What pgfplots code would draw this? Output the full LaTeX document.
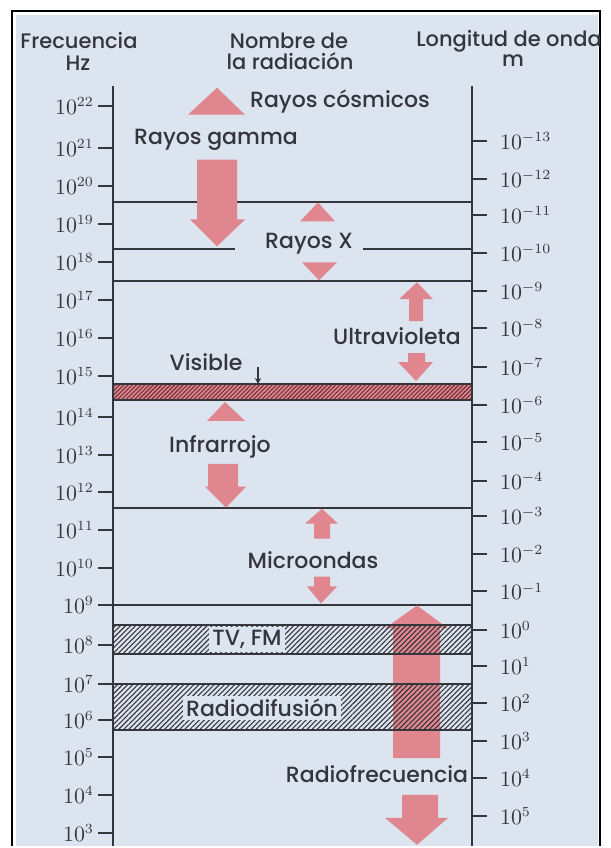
\documentclass[border=0pt]{standalone}
\usepackage{pgfplots}
\pgfplotsset{compat=1.18}
\usepackage{fontspec}
\setmainfont{Poppins}[UprightFont={* Medium}]
\usetikzlibrary{patterns.meta,arrows.meta}
\definecolor{bg}{HTML}{DCE4F0}
\definecolor{arr}{HTML}{E0868F}
\definecolor{ink}{HTML}{35353C}
\definecolor{visfill}{HTML}{D9878E}
\definecolor{vishatch}{HTML}{7A3038}
\begin{document}
\begin{tikzpicture}
\pgfplotsset{
 base/.style={
  width=179.5pt, height=380pt, scale only axis,
  xmin=113, xmax=472, ymin=86, ymax=848, y dir=reverse,
  clip=false,
  axis line style={ink, line width=1.2pt, -},
  tick style={ink, line width=1pt}, major tick length=7.5pt,
  tick align=outside,
  yticklabel style={font=\fontsize{10.5}{11}\selectfont, text=ink},
 },
 ln/.style={ink, line width=1pt},
 af/.style={fill=arr, draw=none},
}
\tikzset{
 lbl/.style={font=\fontsize{11}{12}\selectfont, text=ink, inner sep=1.5pt},
 hdr/.style={font=\fontsize{10.5}{12}\selectfont, text=ink, inner sep=0pt},
}
% ---------- content ----------
\begin{axis}[base, set layers, hide axis]
\begin{pgfonlayer}{axis background}
\fill[white] (axis cs:0,0) rectangle (axis cs:610,848);
\fill[bg] (axis cs:16,15) rectangle (axis cs:598,848);
\draw[black, line width=1.2pt] (axis cs:12,848) -- (axis cs:12,11) -- (axis cs:600,11) -- (axis cs:600,848);
\end{pgfonlayer}
% band boundaries
\addplot[ln] coordinates {(113,203)(472,203)};
\addplot[ln] coordinates {(113,250)(235,250)};
\addplot[ln] coordinates {(363,250)(472,250)};
\addplot[ln] coordinates {(113,282)(472,282)};
\addplot[ln] coordinates {(113,509)(472,509)};
\addplot[ln] coordinates {(113,607)(472,607)};
% visible band
\addplot[draw=none, fill=visfill] coordinates {(113,385)(472,385)(472,401)(113,401)} -- cycle;
\addplot[draw=none, pattern={Lines[angle=45,distance=1.5pt,line width=0.55pt]}, pattern color=vishatch] coordinates {(113,385)(472,385)(472,401)(113,401)} -- cycle;
\addplot[ln] coordinates {(113,385)(472,385)};
\addplot[ln] coordinates {(113,401)(472,401)};
% arrows
\addplot[af] coordinates {(188,115)(217,88)(245,115)} -- cycle;
\addplot[af] coordinates {(197,160)(237,160)(237,220)(245,220)(217,247)(190,220)(197,220)} -- cycle;
\addplot[af] coordinates {(300,222)(318,203)(335,222)} -- cycle;
\addplot[af] coordinates {(302,263)(337,263)(319,281)} -- cycle;
\addplot[af] coordinates {(417,283)(433,300)(423,300)(423,322)(409,322)(409,300)(399,300)} -- cycle;
\addplot[af] coordinates {(408,354)(425,354)(425,363)(433,363)(416,382)(398,363)(408,363)} -- cycle;
\addplot[af] coordinates {(207,422)(225,403)(245,422)} -- cycle;
\addplot[af] coordinates {(208,465)(238,465)(238,488)(246,488)(226,509)(205,488)(208,488)} -- cycle;
\addplot[af] coordinates {(322,510)(338,525)(330,525)(330,540)(314,540)(314,525)(305,525)} -- cycle;
\addplot[af] coordinates {(314,578)(330,578)(330,588)(337,588)(321,605)(307,588)(314,588)} -- cycle;
\addplot[af] coordinates {(417,607)(448,630)(440,630)(440,760)(393,760)(393,630)(385,630)} -- cycle;
\addplot[af] coordinates {(402,797)(438,797)(438,820)(448,820)(417,847)(385,820)(402,820)} -- cycle;
% TV FM and radio bands (hatch over arrow)
\addplot[draw=none, pattern={Lines[angle=45,distance=1.8pt,line width=0.55pt]}, pattern color=ink] coordinates {(113,627)(472,627)(472,656)(113,656)} -- cycle;
\addplot[ln] coordinates {(113,627)(472,627)};
\addplot[ln] coordinates {(113,656)(472,656)};
\addplot[draw=none, pattern={Lines[angle=45,distance=1.8pt,line width=0.55pt]}, pattern color=ink] coordinates {(113,686)(472,686)(472,732)(113,732)} -- cycle;
\addplot[ln] coordinates {(113,686)(472,686)};
\addplot[ln] coordinates {(113,732)(472,732)};
% small visible arrow
\addplot[ink, line width=0.8pt, -{Stealth[length=3pt,width=3pt]}] coordinates {(258,368)(258,385)};
% labels
\node[lbl] at (axis cs:340,102) {Rayos cósmicos};
\node[lbl] at (axis cs:216,140) {Rayos gamma};
\node[lbl] at (axis cs:309,244) {Rayos X};
\node[lbl] at (axis cs:397,337) {Ultravioleta};
\node[lbl] at (axis cs:206,363) {Visible};
\node[lbl] at (axis cs:220,448) {Infrarrojo};
\node[lbl] at (axis cs:313,562) {Microondas};
\node[lbl, fill=bg] at (axis cs:247,641) {TV, FM};
\node[lbl, fill=bg] at (axis cs:262,710) {Radiodifusión};
\node[lbl] at (axis cs:377,776) {Radiofrecuencia};
\node[hdr] at (axis cs:79,41) {Frecuencia};
\node[hdr] at (axis cs:78,63) {Hz};
\node[hdr] at (axis cs:289,41) {Nombre de};
\node[hdr] at (axis cs:290,61) {la radiación};
\node[hdr] at (axis cs:509,41) {Longitud de onda};
\node[hdr] at (axis cs:513,61) {m};
\end{axis}
% ---------- left frequency axis ----------
\begin{axis}[base, axis y line*=left, axis x line=none,
  ytick={106,148,186,225,263,301,339,377,418,456,493,531,569,607,647,686,722,759,797,835},
  yticklabels={$10^{22}$,$10^{21}$,$10^{20}$,$10^{19}$,$10^{18}$,$10^{17}$,$10^{16}$,$10^{15}$,$10^{14}$,$10^{13}$,$10^{12}$,$10^{11}$,$10^{10}$,$10^{9}$,$10^{8}$,$10^{7}$,$10^{6}$,$10^{5}$,$10^{4}$,$10^{3}$},
  yticklabel style={xshift=1.5pt}]
\end{axis}
% ---------- right wavelength axis ----------
\begin{axis}[base, axis y line*=right, axis x line=none,
  ytick={141,179,216,254,292,329,368,406,443,482,517,555,593,632,668,705,743,780,818},
  yticklabels={$10^{-13}$,$10^{-12}$,$10^{-11}$,$10^{-10}$,$10^{-9}$,$10^{-8}$,$10^{-7}$,$10^{-6}$,$10^{-5}$,$10^{-4}$,$10^{-3}$,$10^{-2}$,$10^{-1}$,$10^{0}$,$10^{1}$,$10^{2}$,$10^{3}$,$10^{4}$,$10^{5}$},
  yticklabel style={xshift=3pt}]
\end{axis}
\end{tikzpicture}
\end{document}
